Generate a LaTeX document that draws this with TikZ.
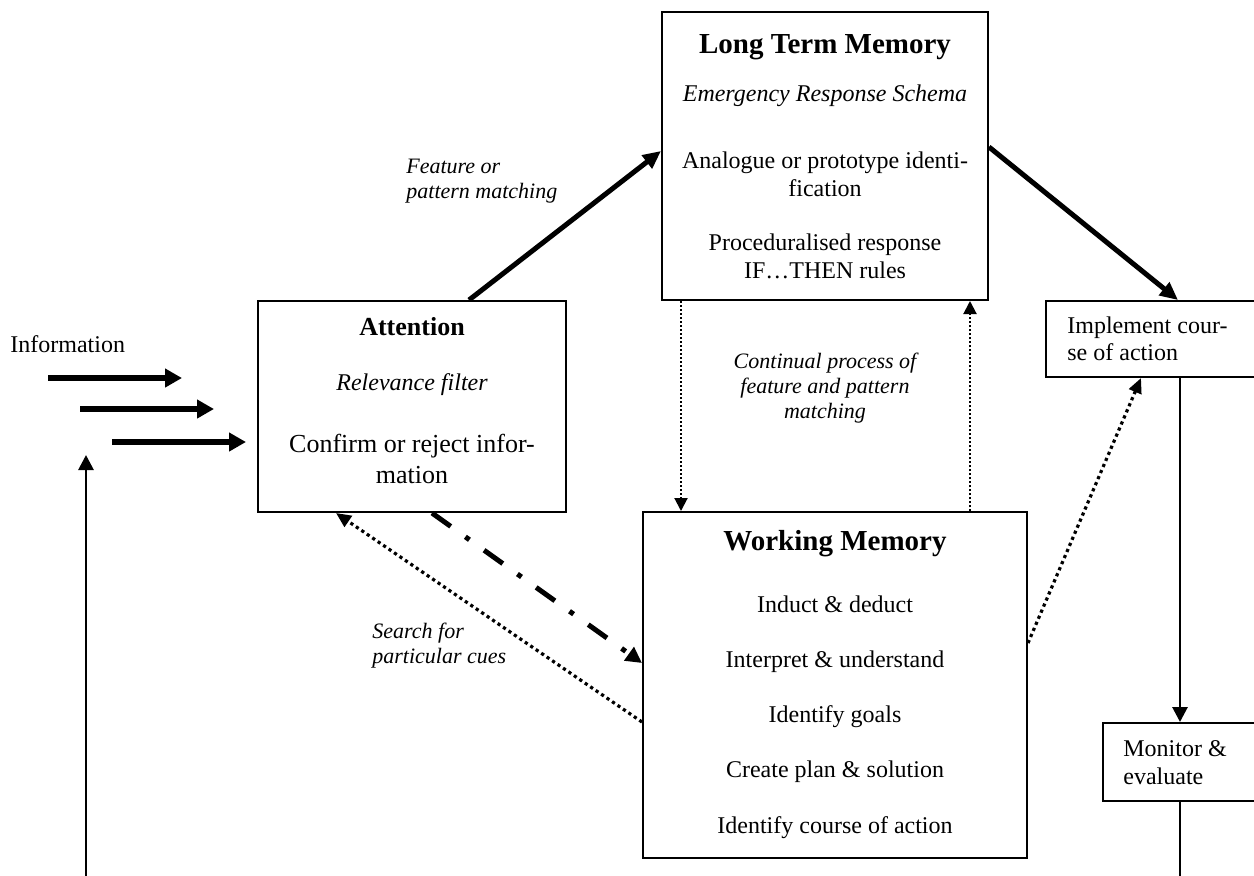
\documentclass[tikz,border=0pt]{standalone}
\usepackage{fontspec}
\setmainfont{Liberation Serif}
\usetikzlibrary{arrows.meta,positioning}

\tikzset{
  box/.style={draw=black, line width=1pt, rectangle, inner sep=0pt},
  txt/.style={font=\fontsize{12}{14}\selectfont, align=center, anchor=base, inner sep=0pt},
  ttl/.style={font=\fontsize{14.5}{16}\selectfont\bfseries, anchor=base, inner sep=0pt},
  note/.style={font=\fontsize{11}{12.5}\selectfont\itshape, anchor=base, inner sep=0pt},
  boldarrow/.style={line width=2.5pt, -{Triangle[length=9pt,width=8pt]}},
  feedline/.style={line width=1.4pt, -{Triangle[length=7.5pt,width=7.5pt]}},
  inarrow/.style={line width=2.8pt, -{Triangle[length=8.5pt,width=9pt]}},
  finedots/.style={line width=1pt, dash pattern=on 1pt off 1pt, -{Triangle[length=6.5pt,width=6.5pt]}},
  heavydots/.style={line width=1.6pt, dash pattern=on 1.6pt off 1.7pt, -{Triangle[length=7.5pt,width=6.5pt]}},
  dashdotarrow/.style={line width=2.5pt, dash pattern=on 11.5pt off 9pt on 2.5pt off 9pt, -{Triangle[length=8pt,width=8pt]}}
}

\begin{document}
\begin{tikzpicture}[x=0.5pt,y=-0.5pt]
\useasboundingbox (0,0) rectangle (1254,875);

\node[box, minimum width=163pt, minimum height=144pt] (ltm) at (825,156) {};
\node[box, minimum width=154pt, minimum height=105.5pt] (att) at (412,406.5) {};
\node[box, minimum width=192pt, minimum height=173pt] (wm) at (835,685) {};
\node[box, minimum width=106pt, minimum height=38pt] (impl) at (1152,339) {};
\node[box, minimum width=77.5pt, minimum height=39pt] (mon) at (1180.5,762) {};

\node[ttl] (ltmtitle) at (825,53) {Long Term Memory};
\node[txt, font=\fontsize{12}{14}\selectfont\itshape] (ltmschema) at (825,101) {Emergency Response Schema};
\node[txt] (ltmanalogue) at (825,196) {Analogue or prototype identi-\\fication};
\node[txt] (ltmrules) at (825,278) {Proceduralised response\\IF…THEN rules};

\node[ttl, font=\fontsize{13}{15}\selectfont\bfseries] (atttitle) at (412,335) {Attention};
\node[txt, font=\fontsize{12}{14}\selectfont\itshape] (attfilter) at (412,390) {Relevance filter};
\node[txt, font=\fontsize{13}{15.5}\selectfont] (attcheck) at (412,483) {Confirm or reject infor-\\mation};

\node[ttl] (wmtitle) at (835,550) {Working Memory};
\node[txt] (wminduct) at (835,612) {Induct \& deduct};
\node[txt] (wminterpret) at (835,667) {Interpret \& understand};
\node[txt] (wmgoals) at (835,722) {Identify goals};
\node[txt] (wmplan) at (835,777) {Create plan \& solution};
\node[txt] (wmcourse) at (835,833) {Identify course of action};

\node[txt, align=left, anchor=base west, font=\fontsize{12}{13.5}\selectfont] (impltext) at (1067,360) {Implement cour-\\se of action};
\node[txt, align=left, anchor=base west] (montext) at (1123,784) {Monitor \&\\evaluate};

\node[txt, anchor=base west] (info) at (10,352) {Information};
\node[note, align=left, anchor=base west] (lblmatch) at (406,198) {Feature or\\pattern matching};
\node[note, align=center] (lblloop) at (825,418) {Continual process of\\feature and pattern\\matching};
\node[note, align=left, anchor=base west] (lblcues) at (372,663) {Search for\\particular cues};

\foreach \i/\x/\y in {1/48/378, 2/80/409, 3/112/442} {
  \coordinate (in\i a) at (\x,\y);
  \coordinate (in\i b) at (\x+134,\y);
  \draw[inarrow] (in\i a) -- (in\i b);
}

\draw[boldarrow] ([xshift=28.5pt]att.north) -- ([yshift=2.5pt]ltm.west);
\draw[boldarrow] ([yshift=4.5pt]ltm.east) -- ([xshift=66.5pt]impl.north west);
\draw[dashdotarrow] ([xshift=10pt]att.south) -- ([yshift=11pt]wm.west);
\draw[heavydots] ([yshift=-18.5pt]wm.west) -- ([xshift=-38pt]att.south);
\draw[heavydots] ([yshift=21pt]wm.east) -- ([xshift=48pt]impl.south west);
\draw[finedots] ([xshift=10pt]ltm.south west) -- ([xshift=10pt]ltm.south west |- wm.north);
\draw[finedots] ([xshift=-9.5pt]ltm.south east |- wm.north) -- ([xshift=-9.5pt]ltm.south east);

\draw[feedline] ([xshift=67.5pt]impl.south west) -- ([xshift=67.5pt]impl.south west |- mon.north);
\coordinate (fbcorner) at (86,905);
\coordinate (fbtip) at (86,455);
\draw[feedline] ([xshift=39pt]mon.south west) |- (fbcorner) -- (fbtip);
\end{tikzpicture}
\end{document}
